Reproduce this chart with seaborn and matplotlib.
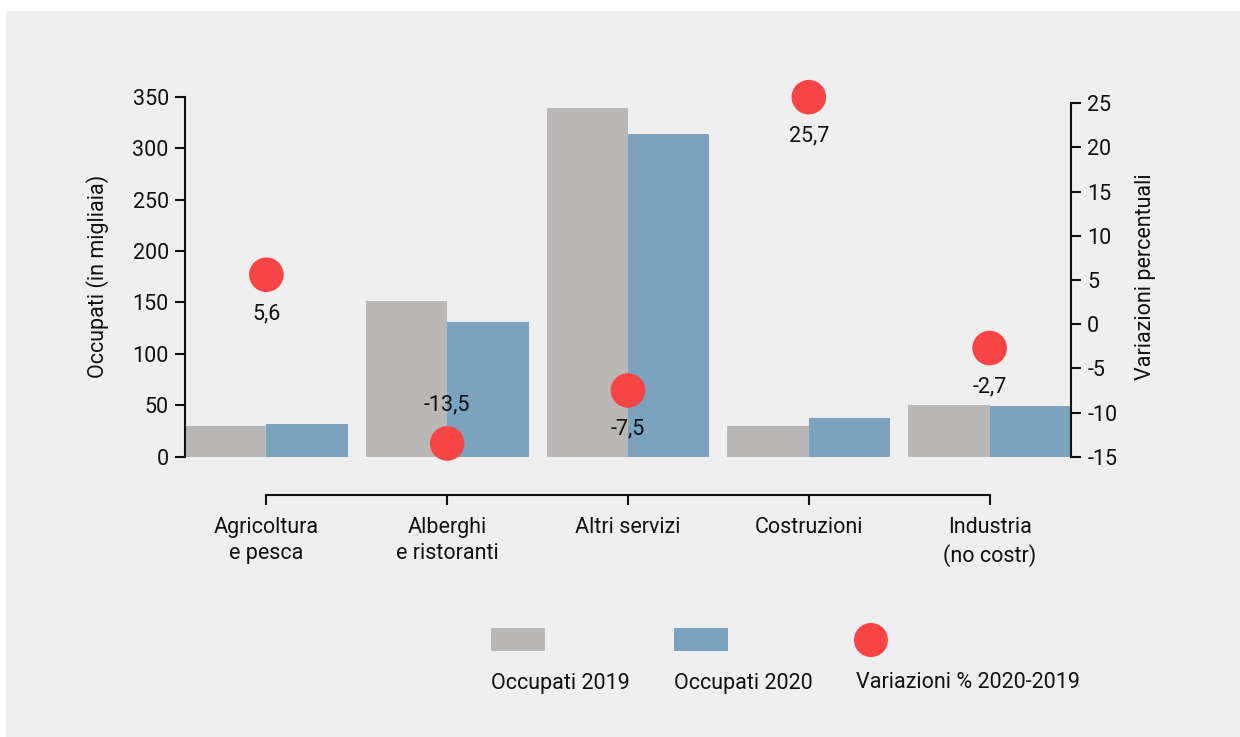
import numpy as np
import pandas as pd
import matplotlib
matplotlib.use("Agg")
import matplotlib.pyplot as plt
from matplotlib.patches import Rectangle, Ellipse
import seaborn as sns

# Occupati per settore (migliaia) e variazione percentuale 2020/2019
settori = ["Agricoltura\ne pesca", "Alberghi\ne ristoranti", "Altri servizi",
           "Costruzioni", "Industria\n(no costr)"]
occupati_2019 = [29.8, 151.4, 339.0, 29.8, 50.3]
occupati_2020 = [31.5, 131.0, 313.6, 37.5, 48.9]
variazioni = [5.6, -13.5, -7.5, 25.7, -2.7]
serie = ["Occupati 2019", "Occupati 2020", "Variazioni % 2020-2019"]

COL_2019 = "#b9b8b6"
COL_2020 = "#7ba3bf"
COL_VAR = "#f74545"
BG = "#efefef"
INK = "#111111"

sns.set_style("ticks")
plt.rcParams["font.family"] = ["Roboto", "DejaVu Sans"]
plt.rcParams["font.size"] = 15.5
plt.rcParams["axes.unicode_minus"] = False
plt.rcParams["text.color"] = INK
plt.rcParams["axes.labelcolor"] = INK
plt.rcParams["xtick.color"] = INK
plt.rcParams["ytick.color"] = INK

W, H = 1240, 737
fig = plt.figure(figsize=(W / 100, H / 100), dpi=100, facecolor="white")

# grey panel behind the chart
fig.add_artist(Rectangle((6 / W, 0), 1 - 6 / W, 1 - 11 / H,
                         transform=fig.transFigure, facecolor=BG,
                         edgecolor="none", zorder=-10))

ax = fig.add_axes([185 / W, 1 - 456.7 / H, (1071 - 185) / W, 360 / H])
ax.set_facecolor("none")

df = pd.DataFrame({
    "settore": settori * 2,
    "valore": occupati_2019 + occupati_2020,
    "anno": [serie[0]] * len(settori) + [serie[1]] * len(settori),
})
sns.barplot(data=df, x="settore", y="valore", hue="anno",
            palette=[COL_2019, COL_2020], width=0.9, linewidth=0,
            saturation=1, legend=False, ax=ax, zorder=2)

ax.set_xlim(-0.45, 4.45)
ax.set_ylim(0, 350)
ax.set_yticks(np.arange(0, 351, 50))
ax.set_xlabel("")
ax.set_ylabel("Occupati (in migliaia)", labelpad=17)

for s in ("top", "right"):
    ax.spines[s].set_visible(False)
ax.spines["left"].set_bounds(0, 350)
ax.spines["bottom"].set_position(("outward", 27.4))
ax.spines["bottom"].set_bounds(0, len(settori) - 1)
for s in ("left", "bottom"):
    ax.spines[s].set_linewidth(1.5)
    ax.spines[s].set_color(INK)
ax.tick_params(axis="both", length=7.2, width=1.5, pad=4.5)
ax.tick_params(axis="x", pad=9)
for lbl in ax.get_xticklabels():
    lbl.set_linespacing(1.3)

# percentage change on the secondary axis
ax2 = ax.twinx()
ax2.set_facecolor("none")
xpos = np.arange(len(settori))
sns.scatterplot(x=xpos, y=variazioni, ax=ax2, s=620, color=COL_VAR,
                edgecolor="none", linewidth=0, zorder=5, clip_on=False,
                legend=False)
ax2.set_ylim(-15, 25.75)
ax2.set_yticks(np.arange(-15, 26, 5))
ax2.set_ylabel("Variazioni percentuali", labelpad=13)
for s in ("top", "left", "bottom"):
    ax2.spines[s].set_visible(False)
ax2.spines["right"].set_bounds(-15, 25)
ax2.spines["right"].set_linewidth(1.5)
ax2.spines["right"].set_color(INK)
ax2.tick_params(axis="y", length=7.2, width=1.5, pad=4.5)

for x, v in zip(xpos, variazioni):
    dy = 27.5 if v < -10 else -28
    ax2.annotate(f"{v:.1f}".replace(".", ","), (x, v), xytext=(0, dy),
                 textcoords="offset points", ha="center", va="center",
                 zorder=6)

# legend: swatches above their labels
leg = fig.add_axes([0, 0, 1, 1])
leg.set_xlim(0, W)
leg.set_ylim(H, 0)
leg.axis("off")
leg.add_patch(Rectangle((491, 628), 54, 23, facecolor=COL_2019, edgecolor="none"))
leg.add_patch(Rectangle((674, 628), 54, 23, facecolor=COL_2020, edgecolor="none"))
leg.add_patch(Ellipse((871, 640), 34, 34, facecolor=COL_VAR, edgecolor="none"))
for x0, txt in zip((491, 674, 856), serie):
    leg.text(x0, 683, txt, ha="left", va="center")

fig.savefig("out.png", dpi=100, facecolor="white")
